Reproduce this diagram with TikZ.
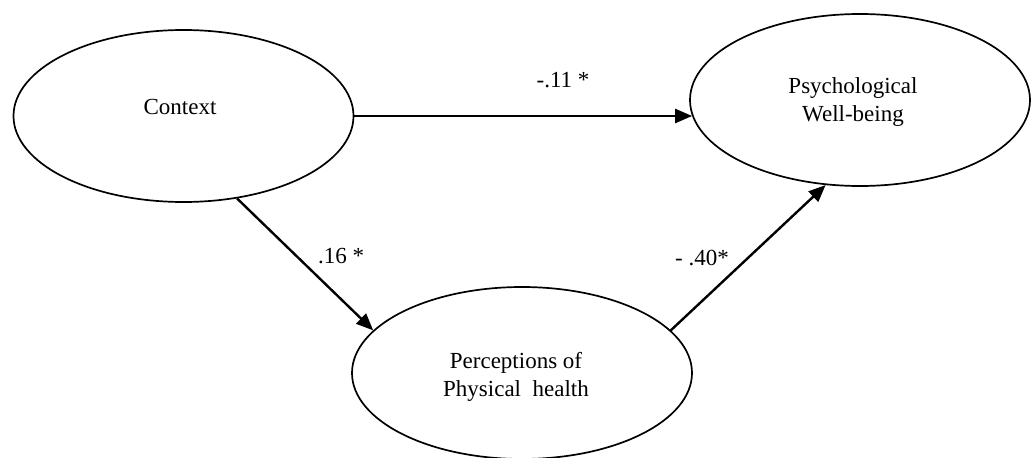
\documentclass[tikz,border=0pt]{standalone}
\usepackage{fontspec}
\setmainfont{Liberation Serif}
\usetikzlibrary{shapes.geometric,arrows.meta}
\tikzset{
  latent/.style={ellipse,draw,line width=1.7pt,minimum width=340pt,minimum height=172pt,inner sep=0pt},
  txt/.style={font=\fontsize{23}{28}\selectfont,align=center,inner sep=0pt},
  path/.style={line width=2.4pt,-{Triangle[length=17pt,width=14pt]}},
  coef/.style={font=\fontsize{23}{28}\selectfont,inner sep=0pt}
}
\begin{document}
\begin{tikzpicture}[x=1pt,y=-1pt]
\useasboundingbox (0,0) rectangle (1034,458);
\node[latent] (ctx) at (183.5,116) {};
\node[latent] (psy) at (860,100) {};
\node[latent] (per) at (522,373) {};
\node[txt] (ctxt) at (180,107) {Context};
\node[txt] (psyt) at (853,102) {Psychological\\Well-being};
\node[txt] (pert) at (516,377) {Perceptions of\\Physical\ \ health};
\draw[path] (ctx.east) -- ([xshift=3pt]psy.west |- ctx.east);
\draw[path] (ctx.-57) -- (per.164);
\draw[path] (per.16) -- (psy.248);
\node[coef] (c1) at (563,80) {-.11 *};
\node[coef] (c2) at (341,256) {.16 *};
\node[coef] (c3) at (702,258) {- .40*};
\end{tikzpicture}
\end{document}
